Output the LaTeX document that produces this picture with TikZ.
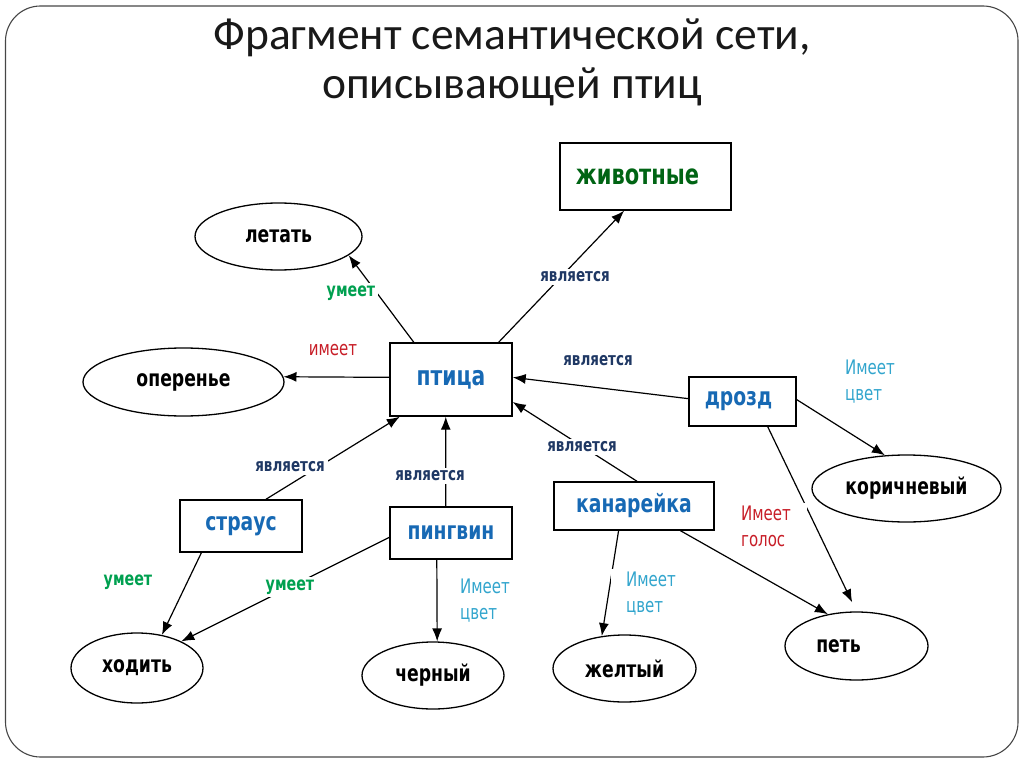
\documentclass[tikz,border=0pt]{standalone}
\usepackage{fontspec}
\setmainfont{Carlito}
\newfontfamily\netfont[FakeStretch=0.75]{DejaVu Sans}
\usepackage{tikz}
\usetikzlibrary{arrows.meta}
\usetikzlibrary{shapes.geometric}
\definecolor{isacolor}{RGB}{31,56,100}
\definecolor{birdcolor}{RGB}{23,105,180}
\definecolor{animalcolor}{RGB}{0,100,20}
\definecolor{cancolor}{RGB}{0,160,80}
\definecolor{hascolor}{RGB}{200,30,40}
\definecolor{tintcolor}{RGB}{50,165,205}
\definecolor{framecolor}{RGB}{70,70,70}

\begin{document}
\begin{tikzpicture}[x=1pt,y=-1pt]
        \tikzset{concept/.style = {shape=rectangle,draw,line width=1.4pt,inner sep=0pt,text=birdcolor,font=\netfont\bfseries\fontsize{25}{30}\selectfont}}
        \tikzset{feature/.style = {shape=ellipse,draw,line width=1.3pt,inner sep=0pt,font=\netfont\bfseries\fontsize{23}{28}\selectfont}}
        \tikzset{edge/.style = {->,> = {Latex[length=13pt,width=10pt]},line width=1.2pt}}
        \tikzset{rel/.style = {fill=white,inner sep=3pt,align=left,font=\netfont\fontsize{20}{26}\selectfont}}
        \tikzset{isa/.style = {rel,text=isacolor,font=\netfont\bfseries\fontsize{18}{22}\selectfont}}
        \tikzset{can/.style = {rel,text=cancolor,font=\netfont\bfseries\fontsize{19}{22}\selectfont}}
        \tikzset{headline/.style = {anchor=base,text=black!90,font=\fontsize{45.5}{50}\selectfont}}
        \useasboundingbox (0,0) rectangle (1024,767);
        \draw[framecolor,line width=1.1pt,rounded corners=35pt] (5.5,6) rectangle (1018,757);
        % title
        \node[headline] (head1) at (512,50) {Фрагмент семантической сети,};
        \node[headline] (head2) at (512,99) {описывающей птиц};
        % vertices
        \node[concept,minimum width=171pt,minimum height=67pt,text=animalcolor,font=\netfont\bfseries\fontsize{28}{30}\selectfont] (animals) at (645.5,176.5) {животные\hspace*{16pt}};
        \node[concept,minimum width=122pt,minimum height=73pt,font=\netfont\bfseries\fontsize{27}{30}\selectfont] (bird) at (451,379.5) {птица};
        \node[concept,minimum width=107pt,minimum height=49pt] (thrush) at (742.5,401.5) {дрозд\hspace*{8pt}};
        \node[concept,minimum width=160pt,minimum height=48pt] (canary) at (634,506) {канарейка};
        \node[concept,minimum width=122pt,minimum height=52pt] (ostrich) at (241,526) {страус};
        \node[concept,minimum width=122pt,minimum height=52pt] (penguin) at (451,533) {пингвин};
        \node[feature,minimum width=167pt,minimum height=67pt] (fly) at (278.5,236.5) {летать};
        \node[feature,minimum width=201pt,minimum height=68pt] (plumage) at (183.5,382) {оперенье};
        \node[feature,minimum width=189pt,minimum height=67pt] (brown) at (906.5,488.5) {коричневый};
        \node[feature,minimum width=143pt,minimum height=67pt] (yellow) at (624.5,668.5) {желтый};
        \node[feature,minimum width=143pt,minimum height=68pt] (sing) at (856.5,646) {петь\hspace*{36pt}};
        \node[feature,minimum width=132pt,minimum height=70pt] (walk) at (137,668) {ходить};
        \node[feature,minimum width=142pt,minimum height=67pt] (black) at (433,675.5) {черный};
        %edges
        \draw[edge] (bird.38) to (animals.238);
        \draw[edge] (bird.135) to (fly.345);
        \draw[edge] (bird.178) to (plumage.3);
        \draw[edge] (thrush.177) to (bird.2);
        \draw[edge] (canary.83) to (bird.340);
        \draw[edge] (ostrich.47) to (bird.216);
        \draw[edge] (penguin.101) to (bird.262);
        \draw[edge] (ostrich.214) to (walk.53);
        \draw[edge] (penguin.184) to (walk.31);
        \draw[edge] (penguin.242) to (black.83);
        \draw[edge] (thrush.2) to (brown.123);
        \draw[edge,shorten >=10pt] (thrush.315) to (sing.90);
        \draw[edge] (canary.238) to (yellow.125);
        \draw[edge] (canary.332) to (sing.132);
        % labels
        \node[isa] (isAnimal) at (575,277) {является};
        \node[can] (canFly) at (351,293) {умеет};
        \node[rel,text=hascolor] (hasPlumage) at (333,350) {имеет};
        \node[isa,fill=none] (thrushIs) at (598,361) {является};
        \node[isa] (canaryIs) at (582,447) {является};
        \node[isa] (ostrichIs) at (290,467) {является};
        \node[isa] (penguinIs) at (430,476) {является};
        \node[can,fill=none] (ostrichWalks) at (128,582) {умеет};
        \node[can] (penguinWalks) at (290,587) {умеет};
        \node[rel,text=tintcolor,fill=none] (thrushColor) at (870,382) {Имеет\\цвет};
        \node[rel,text=tintcolor,fill=none] (penguinColor) at (485,601) {Имеет\\цвет};
        \node[rel,text=tintcolor,inner xsep=15pt] (canaryColor) at (651,594) {Имеет\\цвет};
        \node[rel,text=hascolor,inner xsep=16pt] (sings) at (766,526) {Имеет\\голос};
\end{tikzpicture}
\end{document}
